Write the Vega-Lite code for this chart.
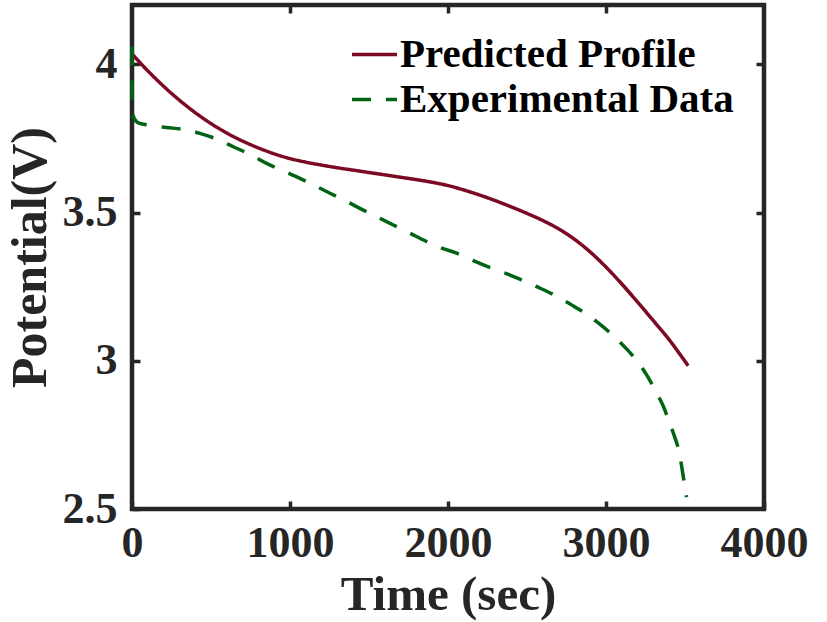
{
  "$schema": "https://vega.github.io/schema/vega-lite/v6.json",
  "width": 632,
  "height": 504,
  "autosize": "none",
  "padding": {"left": 132, "top": 5, "right": 63, "bottom": 113},
  "background": "white",
  "config": {
    "view": {"stroke": "#262626", "strokeWidth": 4.5},
    "font": "Liberation Serif",
    "axis": {
      "grid": false,
      "domain": false,
      "tickColor": "#262626",
      "tickWidth": 3.5,
      "tickSize": -8,
      "labelFont": "Liberation Serif",
      "labelFontWeight": "bold",
      "labelFontSize": 44,
      "labelColor": "#262626",
      "titleFont": "Liberation Serif",
      "titleFontWeight": "bold",
      "titleFontSize": 49,
      "titleColor": "#262626"
    },
    "legend": {
      "labelFont": "Liberation Serif",
      "labelFontWeight": "bold",
      "labelFontSize": 41,
      "labelColor": "#000000",
      "labelLimit": 0
    }
  },
  "data": {
    "values": [
      {"series": "Predicted Profile", "i": 0, "t": 0, "v": 4.035},
      {"series": "Predicted Profile", "i": 1, "t": 100, "v": 3.978},
      {"series": "Predicted Profile", "i": 2, "t": 200, "v": 3.926},
      {"series": "Predicted Profile", "i": 3, "t": 300, "v": 3.879},
      {"series": "Predicted Profile", "i": 4, "t": 400, "v": 3.837},
      {"series": "Predicted Profile", "i": 5, "t": 500, "v": 3.8},
      {"series": "Predicted Profile", "i": 6, "t": 600, "v": 3.768},
      {"series": "Predicted Profile", "i": 7, "t": 700, "v": 3.741},
      {"series": "Predicted Profile", "i": 8, "t": 800, "v": 3.718},
      {"series": "Predicted Profile", "i": 9, "t": 900, "v": 3.698},
      {"series": "Predicted Profile", "i": 10, "t": 1000, "v": 3.682},
      {"series": "Predicted Profile", "i": 11, "t": 1100, "v": 3.67},
      {"series": "Predicted Profile", "i": 12, "t": 1200, "v": 3.66},
      {"series": "Predicted Profile", "i": 13, "t": 1300, "v": 3.651},
      {"series": "Predicted Profile", "i": 14, "t": 1400, "v": 3.643},
      {"series": "Predicted Profile", "i": 15, "t": 1500, "v": 3.635},
      {"series": "Predicted Profile", "i": 16, "t": 1600, "v": 3.627},
      {"series": "Predicted Profile", "i": 17, "t": 1700, "v": 3.619},
      {"series": "Predicted Profile", "i": 18, "t": 1800, "v": 3.611},
      {"series": "Predicted Profile", "i": 19, "t": 1900, "v": 3.602},
      {"series": "Predicted Profile", "i": 20, "t": 2000, "v": 3.591},
      {"series": "Predicted Profile", "i": 21, "t": 2100, "v": 3.576},
      {"series": "Predicted Profile", "i": 22, "t": 2200, "v": 3.559},
      {"series": "Predicted Profile", "i": 23, "t": 2300, "v": 3.54},
      {"series": "Predicted Profile", "i": 24, "t": 2400, "v": 3.519},
      {"series": "Predicted Profile", "i": 25, "t": 2500, "v": 3.497},
      {"series": "Predicted Profile", "i": 26, "t": 2600, "v": 3.473},
      {"series": "Predicted Profile", "i": 27, "t": 2700, "v": 3.445},
      {"series": "Predicted Profile", "i": 28, "t": 2800, "v": 3.41},
      {"series": "Predicted Profile", "i": 29, "t": 2900, "v": 3.367},
      {"series": "Predicted Profile", "i": 30, "t": 3000, "v": 3.316},
      {"series": "Predicted Profile", "i": 31, "t": 3100, "v": 3.259},
      {"series": "Predicted Profile", "i": 32, "t": 3200, "v": 3.198},
      {"series": "Predicted Profile", "i": 33, "t": 3300, "v": 3.135},
      {"series": "Predicted Profile", "i": 34, "t": 3400, "v": 3.071},
      {"series": "Predicted Profile", "i": 35, "t": 3520, "v": 2.983},
      {"series": "Experimental Data", "i": 0, "t": 0, "v": 4.06},
      {"series": "Experimental Data", "i": 1, "t": 0, "v": 3.95},
      {"series": "Experimental Data", "i": 2, "t": 0, "v": 3.86},
      {"series": "Experimental Data", "i": 3, "t": 5, "v": 3.83},
      {"series": "Experimental Data", "i": 4, "t": 30, "v": 3.806},
      {"series": "Experimental Data", "i": 5, "t": 100, "v": 3.795},
      {"series": "Experimental Data", "i": 6, "t": 218, "v": 3.787},
      {"series": "Experimental Data", "i": 7, "t": 330, "v": 3.78},
      {"series": "Experimental Data", "i": 8, "t": 430, "v": 3.767},
      {"series": "Experimental Data", "i": 9, "t": 540, "v": 3.747},
      {"series": "Experimental Data", "i": 10, "t": 641, "v": 3.722},
      {"series": "Experimental Data", "i": 11, "t": 750, "v": 3.695},
      {"series": "Experimental Data", "i": 12, "t": 852, "v": 3.666},
      {"series": "Experimental Data", "i": 13, "t": 960, "v": 3.64},
      {"series": "Experimental Data", "i": 14, "t": 1063, "v": 3.615},
      {"series": "Experimental Data", "i": 15, "t": 1160, "v": 3.59},
      {"series": "Experimental Data", "i": 16, "t": 1253, "v": 3.565},
      {"series": "Experimental Data", "i": 17, "t": 1360, "v": 3.537},
      {"series": "Experimental Data", "i": 18, "t": 1464, "v": 3.508},
      {"series": "Experimental Data", "i": 19, "t": 1560, "v": 3.483},
      {"series": "Experimental Data", "i": 20, "t": 1654, "v": 3.458},
      {"series": "Experimental Data", "i": 21, "t": 1760, "v": 3.43},
      {"series": "Experimental Data", "i": 22, "t": 1865, "v": 3.402},
      {"series": "Experimental Data", "i": 23, "t": 1960, "v": 3.38},
      {"series": "Experimental Data", "i": 24, "t": 2055, "v": 3.363},
      {"series": "Experimental Data", "i": 25, "t": 2160, "v": 3.338},
      {"series": "Experimental Data", "i": 26, "t": 2278, "v": 3.312},
      {"series": "Experimental Data", "i": 27, "t": 2390, "v": 3.29},
      {"series": "Experimental Data", "i": 28, "t": 2489, "v": 3.267},
      {"series": "Experimental Data", "i": 29, "t": 2590, "v": 3.243},
      {"series": "Experimental Data", "i": 30, "t": 2690, "v": 3.217},
      {"series": "Experimental Data", "i": 31, "t": 2790, "v": 3.186},
      {"series": "Experimental Data", "i": 32, "t": 2890, "v": 3.152},
      {"series": "Experimental Data", "i": 33, "t": 2980, "v": 3.115},
      {"series": "Experimental Data", "i": 34, "t": 3059, "v": 3.078},
      {"series": "Experimental Data", "i": 35, "t": 3130, "v": 3.04},
      {"series": "Experimental Data", "i": 36, "t": 3200, "v": 2.997},
      {"series": "Experimental Data", "i": 37, "t": 3260, "v": 2.95},
      {"series": "Experimental Data", "i": 38, "t": 3312, "v": 2.9},
      {"series": "Experimental Data", "i": 39, "t": 3360, "v": 2.85},
      {"series": "Experimental Data", "i": 40, "t": 3396, "v": 2.8},
      {"series": "Experimental Data", "i": 41, "t": 3430, "v": 2.75},
      {"series": "Experimental Data", "i": 42, "t": 3460, "v": 2.7},
      {"series": "Experimental Data", "i": 43, "t": 3480, "v": 2.64},
      {"series": "Experimental Data", "i": 44, "t": 3502, "v": 2.566},
      {"series": "Experimental Data", "i": 45, "t": 3510, "v": 2.54}
    ]
  },
  "layer": [
    {
      "mark": {"type": "line", "strokeWidth": 3.5, "clip": false, "interpolate": "catmull-rom"},
      "encoding": {
        "x": {
          "field": "t", "type": "quantitative",
          "scale": {"domain": [0, 4000], "nice": false},
          "axis": {"orient": "bottom", "values": [0, 1000, 2000, 3000, 4000], "format": "d", "title": "Time (sec)", "labelPadding": 20, "titlePadding": 5, "labelFlush": false, "labelOverlap": false}
        },
        "y": {
          "field": "v", "type": "quantitative",
          "scale": {"domain": [2.5, 4.2], "nice": false, "zero": false},
          "axis": {"orient": "left", "values": [2.5, 3, 3.5, 4], "format": "~g", "title": "Potential(V)", "titleFontSize": 50, "labelPadding": 23, "titlePadding": 7, "labelFlush": false, "labelOverlap": false}
        },
        "color": {
          "field": "series", "type": "nominal",
          "scale": {"domain": ["Predicted Profile", "Experimental Data"], "range": ["#7d0a24", "#006414"]},
          "legend": {"title": null, "orient": "none", "legendX": 218, "legendY": 25, "symbolType": "stroke", "symbolSize": 2025, "symbolStrokeWidth": 3.5, "labelOffset": 1, "rowPadding": 0, "padding": 0}
        },
        "strokeDash": {
          "field": "series", "type": "nominal",
          "scale": {"domain": ["Predicted Profile", "Experimental Data"], "range": [[1, 0], [19, 15]]},
          "legend": {"title": null, "orient": "none", "legendX": 218, "legendY": 25, "symbolType": "stroke", "symbolSize": 2025, "symbolStrokeWidth": 3.5, "labelOffset": 1, "rowPadding": 0, "padding": 0}
        },
        "order": {"field": "i", "type": "quantitative"}
      }
    },
    {
      "mark": {"type": "line", "opacity": 0},
      "encoding": {
        "x": {
          "field": "t", "type": "quantitative",
          "axis": {"orient": "top", "values": [1000, 2000, 3000], "labels": false, "title": null}
        },
        "y": {
          "field": "v", "type": "quantitative",
          "axis": {"orient": "right", "values": [3, 3.5, 4], "labels": false, "title": null}
        },
        "detail": {"field": "series", "type": "nominal"},
        "order": {"field": "i", "type": "quantitative"}
      }
    }
  ],
  "resolve": {"axis": {"x": "independent", "y": "independent"}}
}
